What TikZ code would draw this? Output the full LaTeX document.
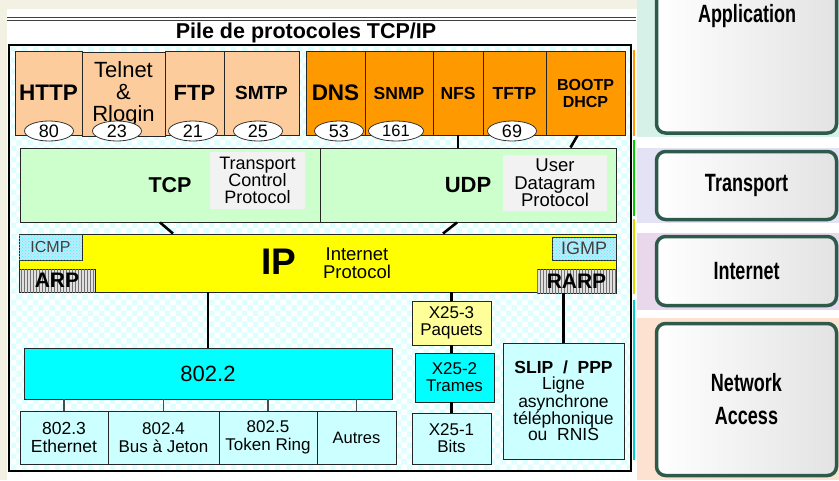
\documentclass[tikz,border=0pt]{standalone}
\usepackage{fontspec}
\setmainfont{Liberation Sans}
\newfontfamily\layerfont{Liberation Sans}[FakeStretch=0.72]
\usetikzlibrary{shapes.geometric,patterns,calc,positioning}

\definecolor{slide}{RGB}{243,241,228}
\definecolor{appc}{RGB}{252,204,156}
\definecolor{appo}{RGB}{255,153,0}
\definecolor{trgreen}{RGB}{204,255,204}
\definecolor{descgray}{RGB}{242,242,242}
\definecolor{ipyellow}{RGB}{255,255,0}
\definecolor{lancyan}{RGB}{0,255,255}
\definecolor{lowcyan}{RGB}{204,255,255}
\definecolor{xyellow}{RGB}{255,255,153}
\definecolor{mint}{RGB}{214,242,232}
\definecolor{lavender}{RGB}{227,227,245}
\definecolor{lilac}{RGB}{233,215,236}
\definecolor{salmon}{RGB}{253,226,209}
\definecolor{layerline}{RGB}{46,90,76}
\newcommand{\fsz}[2]{\fontsize{#1}{#2}\selectfont}

\tikzset{
  box/.style={draw=black!85, line width=0.9pt, inner sep=0pt, align=center},
  port/.style={ellipse, draw=black!80, line width=0.8pt, fill=white, inner sep=0pt,
    minimum width=49, minimum height=20, font=\fsz{18}{18}},
  link/.style={line width=2.6pt},
  lanlink/.style={line width=1.3pt, black!70},
  osilayer/.style={draw=layerline, line width=3.5pt, rounded corners=9pt,
    left color=white, right color=black!11, minimum width=180,
    font=\layerfont\bfseries\fsz{25}{33}, align=center}
}

\begin{document}
\begin{tikzpicture}[x=1pt,y=-1pt]
  \useasboundingbox (0,0) rectangle (839,480);
  % slide background
  \fill[slide] (0,0) rectangle (839,480);
  \fill[white] (7,9) rectangle (839,480);
  % title and double rule
  \draw[black!75] (7,17) -- (636,17);
  \draw[black!75] (7,20) -- (636,20);
  \node[font=\bfseries\fsz{21.5}{23}] (title) at (306,33) {Pile de protocoles TCP/IP};
  % frame with checkered background
  \fill[white] (9,45) rectangle (631,471);
  \fill[pattern=checkerboard, pattern color=cyan!13] (9,45) rectangle (631,471);
  \draw[line width=2.5pt] (9,45) rectangle (631,471);
  % colour marks beside the frame
  \draw[appo, line width=2pt] (634,50) -- (634,136);
  \draw[green!80!black, line width=2pt] (634,140) -- (634,216);
  \draw[ipyellow!85!black, line width=2pt] (634,219) -- (634,294);
  \draw[lancyan!80!black, line width=2pt] (634,300) -- (634,460);

  % application layer
  \node[box, fill=appc, minimum width=67, minimum height=84, font=\bfseries\fsz{22.5}{24}] (http) at (48.5,93) {HTTP};
  \node[box, fill=appc, minimum width=83, minimum height=84, font=\fsz{22}{22}] (telnet) at (123.5,94) {Telnet\\\&\\Rlogin};
  \node[box, fill=appc, minimum width=59, minimum height=84, font=\bfseries\fsz{22}{24}] (ftp) at (194.5,93) {FTP};
  \node[box, fill=appc, minimum width=75, minimum height=84, font=\bfseries\fsz{19}{20}] (smtp) at (261.5,93) {SMTP};
  \node[box, fill=appo, minimum width=59, minimum height=84, font=\bfseries\fsz{22.5}{24}] (dns) at (335.5,93) {DNS};
  \node[box, fill=appo, minimum width=68, minimum height=84, font=\bfseries\fsz{17.5}{20}] (snmp) at (399,93) {SNMP};
  \node[box, fill=appo, minimum width=50, minimum height=84, font=\bfseries\fsz{17.5}{20}] (nfs) at (458,93) {NFS};
  \node[box, fill=appo, minimum width=63, minimum height=84, font=\bfseries\fsz{17.5}{20}] (tftp) at (514.5,93) {TFTP};
  \node[box, fill=appo, minimum width=79, minimum height=84, font=\bfseries\fsz{16}{17}] (bootp) at (585.5,93) {BOOTP\\DHCP};
  % port numbers
  \node[port] (p80) at (49,131) {80};
  \node[port] (p23) at (117,131) {23};
  \node[port] (p21) at (193,131) {21};
  \node[port] (p25) at (258,131) {25};
  \node[port] (p53) at (339,131) {53};
  \node[port, minimum width=55, font=\fsz{16.5}{17}] (p161) at (396,131) {161};
  \node[port] (p69) at (512,131) {69};

  % transport layer
  \node[box, fill=trgreen, minimum width=300, minimum height=74, font=\bfseries\fsz{21.5}{22}] (tcp) at (170,185) {TCP};
  \node[box, fill=trgreen, minimum width=296, minimum height=74, font=\bfseries\fsz{22}{22}] (udp) at (468,185) {UDP};
  \node[inner sep=0pt, fill=descgray, minimum width=95, minimum height=57, align=center, font=\fsz{18}{17}] (tcpdesc) at (257.5,180.5) {Transport\\Control\\Protocol};
  \node[inner sep=0pt, fill=descgray, minimum width=104, minimum height=56, align=center, font=\fsz{18.5}{17.5}] (udpdesc) at (555,183) {User\\Datagram\\Protocol};
  \draw[link] (nfs.south) -- (nfs.south |- udp.north);
  \draw[link] ($(bootp.south)+(-8,0)$) -- ($(bootp.south |- udp.north)+(-15,0)$);

  % internet layer
  \node[box, fill=ipyellow, minimum width=597, minimum height=58] (ip) at (317.5,263) {};
  \node[font=\bfseries\fsz{37}{38}] (iptxt) at (279,262) {IP};
  \node[align=center, font=\fsz{18.5}{18}] (ipdesc) at (357,263) {Internet\\Protocol};
  \node[box, fill=cyan!25, postaction={pattern=crosshatch dots, pattern color=cyan!80}, minimum width=63, minimum height=26, font=\fsz{16}{18}, text=black!75] (icmp) at (50.5,247) {ICMP};
  \node[box, fill=cyan!25, postaction={pattern=crosshatch dots, pattern color=cyan!80}, minimum width=64, minimum height=23, font=\fsz{18}{18}, text=black!75] (igmp) at (584,248.5) {IGMP};
  \node[box, fill=black!12, postaction={pattern=vertical lines, pattern color=black!55}, minimum width=76, minimum height=23, font=\bfseries\fsz{21}{21}] (arp) at (57,280.5) {ARP};
  \node[box, fill=black!12, postaction={pattern=vertical lines, pattern color=black!55}, minimum width=79, minimum height=24, font=\bfseries\fsz{21}{21}] (rarp) at (576.5,281) {RARP};
  \draw[link] ($(tcp.south)+(-10,0)$) -- ($(tcp.south |- ip.north)+(3,0)$);
  \draw[link] ($(udp.south)+(-11,0)$) -- ($(udp.south |- ip.north)+(-25,0)$);

  % network access: LAN
  \node[box, fill=lancyan, minimum width=368, minimum height=51, font=\fsz{22}{22}] (l8022) at (208,373.5) {802.2};
  \node[box, fill=lowcyan, minimum width=88, minimum height=53, font=\fsz{17.5}{18}] (e8023) at (64,437.5) {802.3\\Ethernet};
  \node[box, fill=lowcyan, minimum width=111, minimum height=53, font=\fsz{17}{18}] (e8024) at (163.5,437.5) {802.4\\Bus à Jeton};
  \node[box, fill=lowcyan, minimum width=98, minimum height=53, font=\fsz{17}{18}] (e8025) at (268,437.5) {802.5\\Token Ring};
  \node[box, fill=lowcyan, minimum width=79, minimum height=53, font=\fsz{16.5}{18}] (autres) at (356.5,437.5) {Autres};
  \draw[link] (l8022.north |- ip.south) -- (l8022.north);
  \draw[lanlink] (e8023.north |- l8022.south) -- (e8023.north);
  \draw[lanlink] (e8024.north |- l8022.south) -- (e8024.north);
  \draw[lanlink] (e8025.north |- l8022.south) -- (e8025.north);
  \draw[lanlink] (autres.north |- l8022.south) -- (autres.north);

  % network access: X25 and serial line
  \node[box, fill=xyellow, minimum width=79, minimum height=44, font=\fsz{17}{17}] (x253) at (451.5,323) {X25-3\\Paquets};
  \node[box, fill=lancyan, minimum width=79, minimum height=49, font=\fsz{17}{17}] (x252) at (454.5,377.5) {X25-2\\Trames};
  \node[box, fill=lowcyan, minimum width=79, minimum height=51, font=\fsz{17}{17}] (x251) at (451.5,438.5) {X25-1\\Bits};
  \node[box, fill=lowcyan, minimum width=121, minimum height=116, font=\fsz{17.5}{16}] (slip) at (563.5,401) {{\bfseries SLIP \ / \ PPP}\\Ligne\\asynchrone\\téléphonique\\ou\ \ RNIS};
  \draw[link] (x253.north |- ip.south) -- (x253.north);
  \draw[link] (x253.south) -- (x253.south |- x252.north);
  \draw[link] (x253.south |- x252.south) -- (x251.north);
  \draw[link] (slip.north |- rarp.south) -- (slip.north);

  % TCP/IP model layers on the right
  \fill[mint] (637,0) rectangle (839,137);
  \fill[lavender] (637,148) rectangle (839,223);
  \fill[lilac] (637,233) rectangle (839,310);
  \fill[salmon] (637,318) rectangle (839,480);
  \node[osilayer, minimum height=142] (appbox) at (746.5,62) {};
  \node[font=\layerfont\bfseries\fsz{25}{28}] (apptxt) at (747,16) {Application};
  \node[osilayer, minimum height=68] (trbox) at (746.5,185.5) {Transport};
  \node[osilayer, minimum height=69] (inbox) at (746.5,271) {Internet};
  \node[osilayer, minimum height=152] (nabox) at (746.5,399.5) {Network\\Access};
\end{tikzpicture}
\end{document}
